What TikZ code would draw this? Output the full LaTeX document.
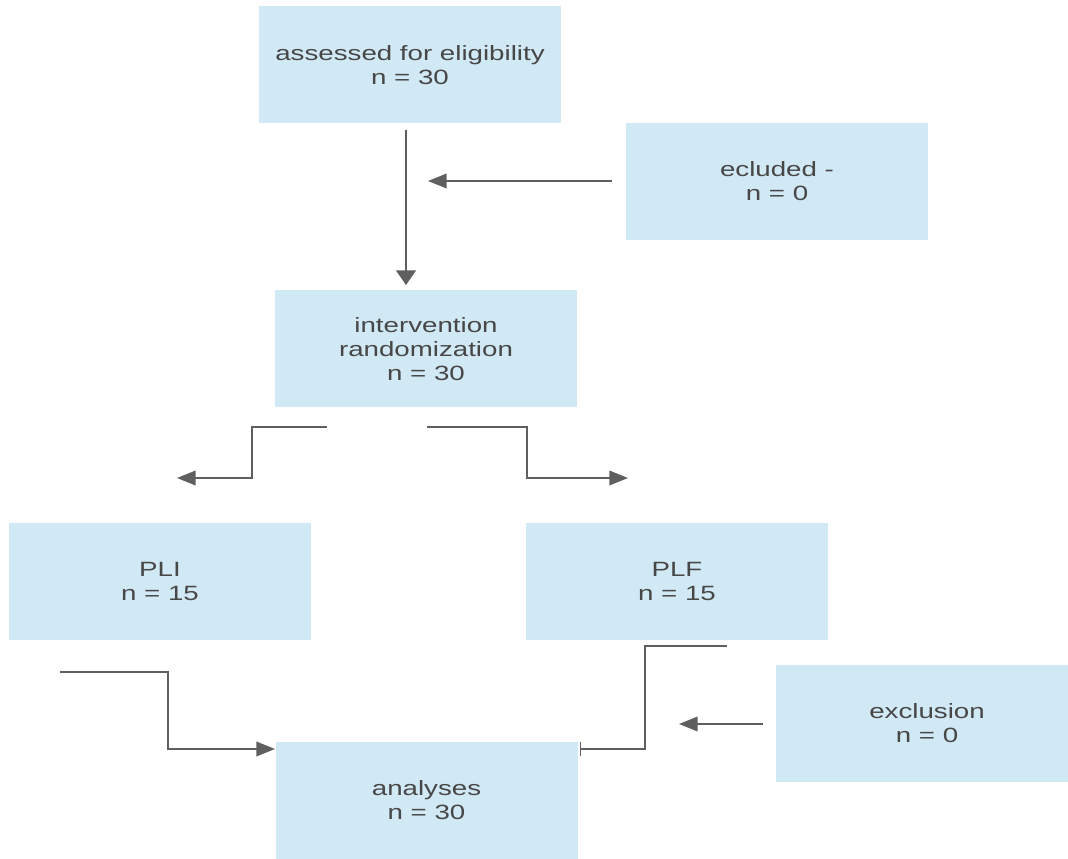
\documentclass[tikz,border=0pt]{standalone}
\usepackage{fontspec}
\setmainfont{Liberation Sans}[FakeStretch=1.34]
\usetikzlibrary{arrows.meta}
\definecolor{boxfill}{HTML}{D1E8F5}
\definecolor{linegrey}{HTML}{5F5F5F}
\definecolor{textgrey}{HTML}{474747}
\begin{document}
\begin{tikzpicture}[x=0.75pt,y=-0.75pt]

    \tikzset{
      box/.style={
        fill=boxfill,
        draw=none,
        text=textgrey,
        align=center,
        minimum width=226.5pt,
        minimum height=87.75pt,
        inner sep=0pt,
        font=\fontsize{15.5}{18}\selectfont,
      },
      flow/.style={
        color=linegrey,
        line width=1.1pt,
        -{Triangle[length=14pt,width=11pt]},
      },
    }
    \useasboundingbox (0,0) rectangle (1068,859);
	\node[box] (assessed) at (410,65) {assessed for eligibility\\n = 30};
	\node[box] (excluded) at (777,181.5) {ecluded -\\n = 0};
	\node[box] (random) at (426,349) {intervention\\randomization\\n = 30};
	\node[box] (pli) at (160,581.5) {PLI\\n = 15};
	\node[box] (plf) at (677,581.5) {PLF\\n = 15};
	\node[box] (exclusion) at (927,723.5) {exclusion\\n = 0};
	\node[box] (analyses) at (426.5,800.5) {analyses\\n = 30};

	\coordinate (downA) at (406,130); \coordinate (downB) at (406,285);
	\coordinate (exA) at (612,181); \coordinate (exB) at (428,181);
	\coordinate (leftA) at (327,427); \coordinate (leftB) at (252,478); \coordinate (leftC) at (177,478);
	\coordinate (rightA) at (427,427); \coordinate (rightB) at (527,478); \coordinate (rightC) at (628,478);
	\coordinate (pliA) at (60,672); \coordinate (pliB) at (168,749); \coordinate (pliC) at (275,749);
	\coordinate (plfA) at (727,646); \coordinate (plfB) at (645,749); \coordinate (plfC) at (580,749);
	\coordinate (outA) at (763,724); \coordinate (outB) at (679,724);

	\draw[flow,-{Triangle[length=11pt,width=15pt]}] (downA)--(downB);
	\draw[flow] (exA)--(exB);
	\draw[flow] (leftA) -| (leftB) -- (leftC);
	\draw[flow] (rightA) -| (rightB) -- (rightC);
	\draw[flow] (pliA) -| (pliB) -- (pliC);
	\draw[flow,-{Bar[width=10.5pt]}] (plfA) -| (plfB) -- (plfC);
	\draw[flow] (outA)--(outB);

\end{tikzpicture}
\end{document}
